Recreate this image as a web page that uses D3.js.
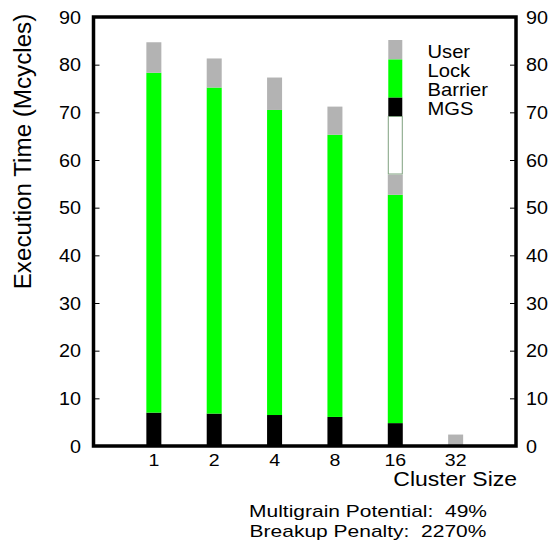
<!DOCTYPE html>
<html>
<head>
<meta charset="utf-8">
<script src="https://cdn.jsdelivr.net/npm/d3@7"></script>
<style>
body { margin: 0; background: #fff; }
text { font-family: "Liberation Sans", Arial, sans-serif; fill: #000; }
</style>
</head>
<body>
<div id="chart"></div>
<script>
var clusters = ["1", "2", "4", "8", "16", "32"];
var mgs     = [7.0, 6.8, 6.5, 6.1, 4.8, 0];
var barrier = [0, 0, 0, 0, 0, 0];
var lock    = [71.3, 68.4, 64.0, 59.2, 47.9, 0];
var user    = [6.4, 6.1, 6.8, 5.9, 4.2, 2.4];
var yTicks  = [0, 10, 20, 30, 40, 50, 60, 70, 80, 90];
var legendNames = ["User", "Lock", "Barrier", "MGS"];
var notes = ["Multigrain Potential:  49%", "Breakup Penalty:  2270%"];

var W = 555, H = 548;
var svg = d3.select("#chart").append("svg")
    .attr("width", W)
    .attr("height", H);

var x = d3.scaleLinear().domain([0, clusters.length + 1]).range([93.5, 516]);
var y = d3.scaleLinear().domain([0, 90]).range([446, 17]);
var BAR_W = 15;

// horizontal texts in the original are a bit wider than the font, stretch them
function wide(sel, tx, ty, sx) {
    return sel.attr("transform", "translate(" + tx + "," + ty + ") scale(" + sx + ",1)");
}

// stack the series: MGS at the bottom, then Barrier, Lock, User
var series = [
    {name: "MGS", values: mgs, color: "#000"},
    {name: "Barrier", values: barrier, color: "#fff"},
    {name: "Lock", values: lock, color: "#00ff00"},
    {name: "User", values: user, color: "#b3b3b3"}
];
var rows = clusters.map(function (c, i) {
    var r = {cluster: c, idx: i + 1};
    series.forEach(function (s) { r[s.name] = s.values[i]; });
    return r;
});
var stack = d3.stack().keys(series.map(s => s.name))(rows);

var bars = svg.append("g").attr("class", "bars");
stack.forEach(function (layer, k) {
    bars.append("g")
    .selectAll("rect")
    .data(layer.filter(d => d[1] > d[0])).enter()
    .append("rect")
    .attr("x", d => x(d.data.idx) - BAR_W / 2)
    .attr("width", BAR_W)
    .attr("y", d => y(d[1]))
    .attr("height", d => y(d[0]) - y(d[1]))
    .style("fill", series[k].color);
});

// legend key, sitting in the column of the 16 bar
var legX = x(5) - BAR_W / 2;
var keys = [
    {y0: 40, y1: 59.5, color: "#b3b3b3", stroke: "none"},
    {y0: 59.5, y1: 97.7, color: "#00ff00", stroke: "none"},
    {y0: 97.7, y1: 116.5, color: "#000", stroke: "none"},
    {y0: 116.5, y1: 174, color: "#fff", stroke: "#7fa07f"}
];
svg.append("g").selectAll("rect")
    .data(keys).enter()
    .append("rect")
    .attr("x", legX + 0.5)
    .attr("width", BAR_W - 1)
    .attr("y", d => d.y0)
    .attr("height", d => d.y1 - d.y0)
    .style("fill", d => d.color)
    .style("stroke", d => d.stroke)
    .style("stroke-width", 1);

svg.append("g").selectAll("text")
    .data(legendNames).enter()
    .append("text")
    .call(s => s.each(function (d, i) { wide(d3.select(this), 427.5, 58 + i * 19, 1.14); }))
    .style("font-size", "17.7px")
    .text(d => d);

// frame
svg.append("rect")
    .attr("x", x.range()[0])
    .attr("y", y(90))
    .attr("width", x.range()[1] - x.range()[0])
    .attr("height", y(0) - y(90))
    .style("fill", "none")
    .style("stroke", "#000")
    .style("stroke-width", 3.5);

// y axes, ticks inward
var left = svg.append("g")
    .attr("transform", "translate(" + x.range()[0] + ",0)")
    .call(d3.axisRight(y).tickValues(yTicks).tickSize(6).tickFormat(""));
var right = svg.append("g")
    .attr("transform", "translate(" + x.range()[1] + ",0)")
    .call(d3.axisLeft(y).tickValues(yTicks).tickSize(6).tickFormat(""));
[left, right].forEach(function (g) {
    g.select(".domain").remove();
    g.selectAll("line").style("stroke", "#000").style("stroke-width", 1);
});

svg.append("g").selectAll("text")
    .data(yTicks).enter()
    .append("text")
    .each(function (d) { wide(d3.select(this), 81, y(d) + 6.5, 1.13); })
    .attr("text-anchor", "end")
    .style("font-size", "17.5px")
    .text(d => d);
svg.append("g").selectAll("text")
    .data(yTicks).enter()
    .append("text")
    .each(function (d) { wide(d3.select(this), 526, y(d) + 6.5, 1.13); })
    .style("font-size", "17.5px")
    .text(d => d);

// x labels
svg.append("g").selectAll("text")
    .data(clusters).enter()
    .append("text")
    .each(function (d, i) { wide(d3.select(this), x(i + 1), 466, 1.15); })
    .attr("text-anchor", "middle")
    .style("font-size", "17px")
    .text(d => d);

wide(svg.append("text"), 517, 486, 1.12)
    .attr("text-anchor", "end")
    .style("font-size", "20.5px")
    .text("Cluster Size");

svg.append("text")
    .attr("transform", "translate(30.5,151.5) rotate(-90)")
    .attr("text-anchor", "middle")
    .style("font-size", "24.2px")
    .text("Execution Time (Mcycles)");

svg.append("g").selectAll("text")
    .data(notes).enter()
    .append("text")
    .each(function (d, i) { wide(d3.select(this), 368, 517 + i * 20, 1.28); })
    .attr("text-anchor", "middle")
    .style("font-size", "16.4px")
    .style("white-space", "pre")
    .text(d => d);
</script>
</body>
</html>
